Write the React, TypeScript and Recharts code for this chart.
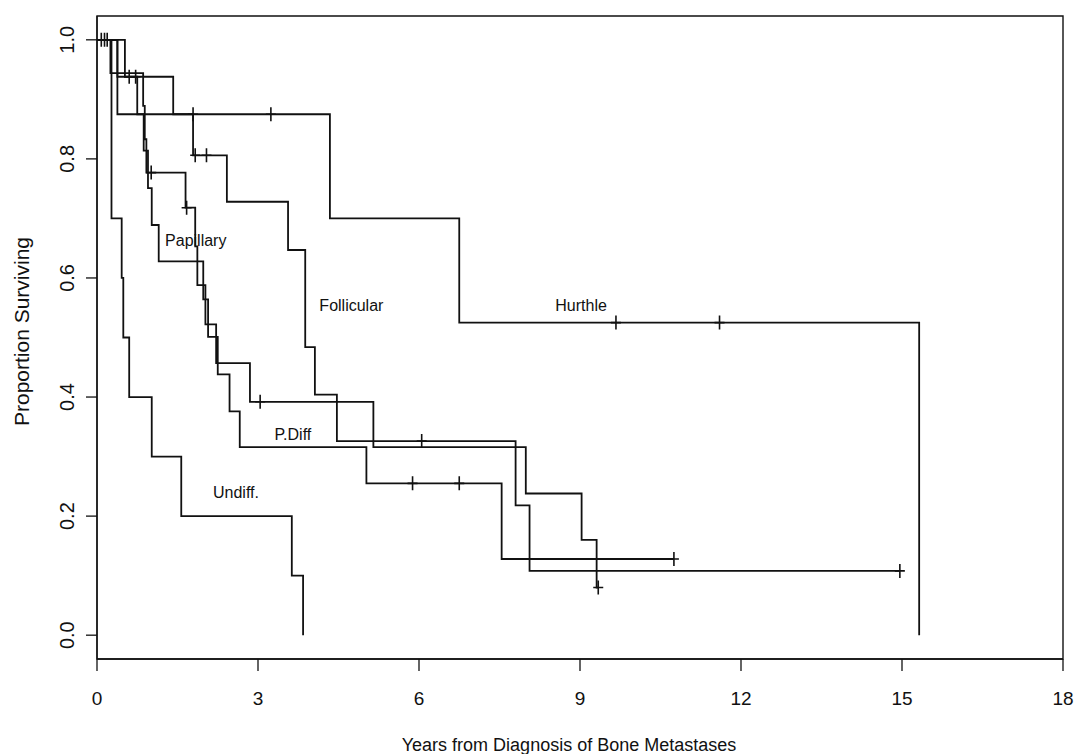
import React from 'react';
import { ComposedChart, Line, Scatter, XAxis, YAxis, ReferenceArea, ReferenceDot } from 'recharts';

const FONT = '"Liberation Sans", Arial, Helvetica, sans-serif';
const INK = '#111';

const xTicks = [0, 3, 6, 9, 12, 15, 18];
const yTicks = [0, 0.2, 0.4, 0.6, 0.8, 1.0];

// step times (years) and survival proportions
const papillaryT = [0, 0.25, 0.86, 0.89, 0.92, 1.65, 1.83, 1.87, 2.02, 2.22, 2.85, 5.15, 7.99, 9.03, 9.31, 9.34];
const papillaryS = [1, 0.944, 0.889, 0.833, 0.777, 0.718, 0.653, 0.588, 0.522, 0.457, 0.392, 0.316, 0.238, 0.16, 0.08, 0.08];
const papillaryCensT = [0.08, 0.14, 0.19, 1.01, 1.67, 3.04, 9.34];
const papillaryCensS = [1, 1, 1, 0.777, 0.718, 0.392, 0.08];

const follicularT = [0, 0.52, 1.42, 1.79, 2.42, 3.56, 3.88, 4.06, 4.47, 7.8, 8.06, 14.96];
const follicularS = [1, 0.938, 0.875, 0.806, 0.728, 0.647, 0.484, 0.404, 0.326, 0.218, 0.108, 0.108];
const follicularCensT = [0.6, 0.72, 1.83, 2.04, 6.05, 14.96];
const follicularCensS = [0.938, 0.938, 0.806, 0.806, 0.326, 0.108];

const hurthleT = [0, 0.38, 4.34, 6.75, 15.32];
const hurthleS = [1, 0.875, 0.7, 0.525, 0];
const hurthleCensT = [1.79, 3.24, 9.67, 11.6];
const hurthleCensS = [0.875, 0.875, 0.525, 0.525];

const pdiffT = [0, 0.38, 0.75, 0.87, 0.95, 1.02, 1.15, 1.98, 2.07, 2.25, 2.47, 2.66, 5.02, 7.54, 10.75];
const pdiffS = [1, 0.938, 0.875, 0.814, 0.751, 0.689, 0.628, 0.564, 0.501, 0.438, 0.376, 0.316, 0.255, 0.128, 0.128];
const pdiffCensT = [5.88, 6.75, 10.75];
const pdiffCensS = [0.255, 0.255, 0.128];

const undiffT = [0, 0.27, 0.46, 0.49, 0.6, 1.02, 1.57, 3.63, 3.84];
const undiffS = [1, 0.7, 0.6, 0.5, 0.4, 0.3, 0.2, 0.1, 0];

// curve labels
const labelText = ['Papillary', 'Follicular', 'Hurthle', 'P.Diff', 'Undiff.'];
const labelT = [1.84, 4.74, 9.02, 3.65, 2.59];
const labelS = [0.664, 0.555, 0.555, 0.337, 0.24];

const toPoints = (t: number[], s: number[]) => t.map((v, i) => ({ t: v, s: s[i] }));

const curves = [
  toPoints(papillaryT, papillaryS),
  toPoints(follicularT, follicularS),
  toPoints(hurthleT, hurthleS),
  toPoints(pdiffT, pdiffS),
  toPoints(undiffT, undiffS),
];

const censored = [
  toPoints(papillaryCensT, papillaryCensS),
  toPoints(follicularCensT, follicularCensS),
  toPoints(hurthleCensT, hurthleCensS),
  toPoints(pdiffCensT, pdiffCensS),
];

const PlusMark = (props: any) => {
  const { cx, cy } = props;
  return <path d={`M${cx - 5},${cy}H${cx + 5}M${cx},${cy - 7}V${cy + 7}`} stroke={INK} strokeWidth={1.6} fill="none" />;
};

const XTick = (props: any) => {
  const { x, y, payload } = props;
  return (
    <text x={x} y={y} dy="0.71em" textAnchor="middle" fontFamily={FONT} fontSize={19} fill={INK}>
      {payload.value}
    </text>
  );
};

const YTick = (props: any) => {
  const { x, y, payload } = props;
  return (
    <text x={x} y={y} dy="0.36em" textAnchor="middle" transform={`rotate(-90, ${x}, ${y})`} fontFamily={FONT} fontSize={20} fill={INK}>
      {Number(payload.value).toFixed(1)}
    </text>
  );
};

const App: React.FC = () => {
  return (
    <div style={{ position: 'absolute', left: 0, top: 0, width: 1077, height: 754, background: '#fff' }}>
      <ComposedChart width={1077} height={754} margin={{ top: 16, right: 14, bottom: 35, left: 27 }}>
        <XAxis
          type="number"
          dataKey="t"
          domain={[0, 18]}
          ticks={xTicks}
          interval={0}
          allowDataOverflow
          height={60}
          tickSize={12}
          tickMargin={21}
          tick={<XTick />}
          axisLine={{ stroke: INK, strokeWidth: 1.3 }}
          tickLine={{ stroke: INK, strokeWidth: 1.3 }}
          label={{
            value: 'Years from Diagnosis of Bone Metastases',
            position: 'bottom',
            offset: 19,
            dx: -11,
            style: { fontFamily: FONT, fontSize: 18, fill: INK },
          }}
        />
        <YAxis
          type="number"
          domain={[-0.04, 1.04]}
          ticks={yTicks}
          interval={0}
          allowDataOverflow
          width={70}
          tickSize={11}
          tickMargin={19}
          tick={<YTick />}
          axisLine={{ stroke: INK, strokeWidth: 1.3 }}
          tickLine={{ stroke: INK, strokeWidth: 1.3 }}
          label={{
            value: 'Proportion Surviving',
            angle: -90,
            position: 'insideLeft',
            offset: -5,
            dy: -6,
            style: { fontFamily: FONT, fontSize: 21, fill: INK, textAnchor: 'middle' },
          }}
        />
        <ReferenceArea x1={0} x2={18} y1={-0.04} y2={1.04} fill="none" fillOpacity={0} stroke={INK} strokeWidth={1.4} />
        {curves.map((pts, i) => (
          <Line
            key={`c${i}`}
            data={pts}
            dataKey="s"
            type="stepAfter"
            stroke={INK}
            strokeWidth={1.8}
            dot={false}
            activeDot={false}
            isAnimationActive={false}
          />
        ))}
        {censored.map((pts, i) => (
          <Scatter key={`m${i}`} data={pts} dataKey="s" shape={PlusMark} isAnimationActive={false} />
        ))}
        {labelText.map((txt, i) => (
          <ReferenceDot
            key={`l${i}`}
            x={labelT[i]}
            y={labelS[i]}
            r={0}
            shape={(p: any) => (
              <text x={p.cx} y={p.cy} dy="0.36em" textAnchor="middle" fontFamily={FONT} fontSize={16} fill={INK}>
                {txt}
              </text>
            )}
          />
        ))}
      </ComposedChart>
    </div>
  );
};

export default App;
